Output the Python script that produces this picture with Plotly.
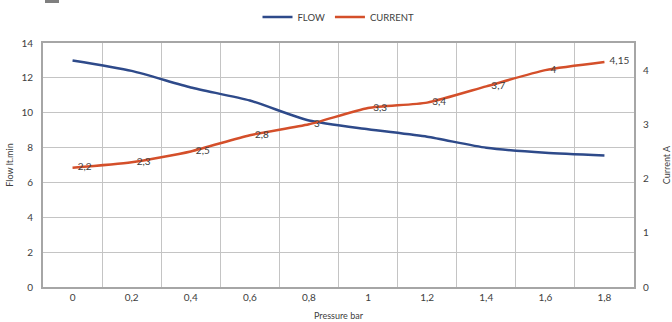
import plotly.graph_objects as go

pressure = ["0", "0,2", "0,4", "0,6", "0,8", "1", "1,2", "1,4", "1,6", "1,8"]
flow = [13.0, 12.4, 11.45, 10.7, 9.55, 9.05, 8.62, 7.99, 7.7, 7.55]
current = [2.2, 2.3, 2.5, 2.8, 3.0, 3.3, 3.4, 3.7, 4.0, 4.15]
current_labels = ["2,2", "2,3", "2,5", "2,8", "3", "3,3", "3,4", "3,7", "4", "4,15"]

FONT = "Lato, Open Sans, sans-serif"
BLUE = "#2E4A8A"
ORANGE = "#D44F2A"
TXT = "#404040"

fig = go.Figure()
fig.add_trace(go.Scatter(
    x=pressure, y=flow, name="FLOW", mode="lines",
    line=dict(color=BLUE, width=2.5, shape="spline", smoothing=0.6),
    yaxis="y"))
fig.add_trace(go.Scatter(
    x=pressure, y=current, name="CURRENT", mode="lines+text",
    text=["\u00a0\u00a0" + t for t in current_labels], textposition="middle right",
    textfont=dict(family=FONT, size=10, color=TXT),
    line=dict(color=ORANGE, width=2.5, shape="spline", smoothing=0.6),
    yaxis="y2"))

fig.update_layout(
    width=672, height=322,
    margin=dict(l=43, r=38, t=43, b=35, autoexpand=False),
    paper_bgcolor="white", plot_bgcolor="white",
    font=dict(family=FONT, size=10, color=TXT),
    showlegend=True,
    legend=dict(orientation="h", x=0.5, xanchor="center",
                y=1 + (43 - 17) / 244, yanchor="middle",
                font=dict(size=9.5, color=TXT),
                itemwidth=30, tracegroupgap=0),
    xaxis=dict(type="category", tickson="boundaries", showgrid=True,
               gridcolor="#C4C4C4", gridwidth=1,
               showline=True, linecolor="#A6A6A6", linewidth=2, mirror=True,
               ticks="", ticklen=0, automargin=False,
               title=dict(text="Pressure bar", font=dict(size=9, color=TXT), standoff=11),
               tickfont=dict(size=10), range=[-0.5, 9.5]),
    yaxis=dict(range=[0, 14], dtick=2, showgrid=True, gridcolor="#C4C4C4", gridwidth=1,
               showline=True, linecolor="#A6A6A6", linewidth=2, mirror=True,
               zeroline=False, ticks="", ticklabelstandoff=6, automargin=False,
               title=dict(text="Flow lt.min", font=dict(size=9, color=TXT), standoff=6),
               tickfont=dict(size=10)),
    yaxis2=dict(range=[0, 4.5], dtick=1, overlaying="y", side="right", showgrid=False,
                zeroline=False, showline=False, ticks="", ticklabelstandoff=8,
                automargin=False,
                title=dict(text="Current A", font=dict(size=9, color=TXT), standoff=17),
                tickfont=dict(size=10)),
)

fig.add_shape(type="rect", xref="paper", yref="paper",
              x0=(45 - 43) / 591, x1=(59 - 43) / 591,
              y0=(287 - 0) / 244, y1=(287 - 3) / 244,
              fillcolor="#7F7F7F", line=dict(width=0), layer="above")

fig.write_html("out.html", config={"displayModeBar": False},
               post_script="document.body.style.margin='0';")
